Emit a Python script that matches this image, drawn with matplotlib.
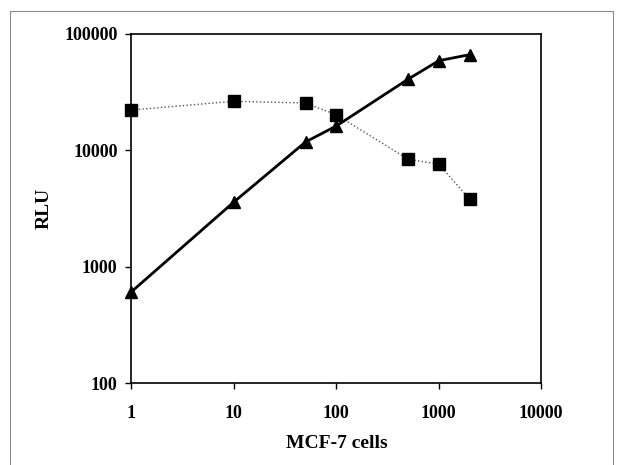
import matplotlib.pyplot as plt
from matplotlib.patches import Rectangle
from matplotlib.ticker import FixedLocator, NullLocator

# cells per well
cells = [1, 10, 50, 100, 500, 1000, 2000]
# triangle series (solid line)
rlu_triangle = [610, 3600, 11800, 16200, 40800, 58900, 66400]
# square series (dotted line)
rlu_square = [22200, 26400, 25500, 20200, 8400, 7600, 3800]

x_ticks = [1, 10, 100, 1000, 10000]
y_ticks = [100, 1000, 10000, 100000]

plt.rcParams['font.family'] = ['Liberation Serif', 'DejaVu Serif']

fig = plt.figure(figsize=(6.2, 4.65), dpi=100)
ax = fig.add_axes([0.212, 0.176, 0.661, 0.751])

# outer frame around the figure
fig.patches.append(Rectangle((0.016, -0.05), 0.973, 1.026, transform=fig.transFigure,
                             fill=False, edgecolor='#888888', linewidth=0.8))

ax.plot(cells, rlu_square, color='#555555', linestyle=':', linewidth=1.0,
        marker='s', markersize=8, markerfacecolor='black', markeredgecolor='black',
        clip_on=False, zorder=3)
ax.plot(cells, rlu_triangle, color='black', linestyle='-', linewidth=2.0,
        marker='^', markersize=9, markerfacecolor='black', markeredgecolor='black',
        clip_on=False, zorder=4)

ax.set_xscale('log')
ax.set_yscale('log')
ax.set_xlim(1, 10000)
ax.set_ylim(100, 100000)
ax.xaxis.set_major_locator(FixedLocator(x_ticks))
ax.yaxis.set_major_locator(FixedLocator(y_ticks))
ax.xaxis.set_minor_locator(NullLocator())
ax.yaxis.set_minor_locator(NullLocator())
ax.set_xticklabels([str(v) for v in x_ticks])
ax.set_yticklabels([str(v) for v in y_ticks])

ax.tick_params(direction='out', length=4, width=1, labelsize=13, pad=12)
ax.tick_params(axis='y', pad=6)
for lab in ax.get_xticklabels() + ax.get_yticklabels():
    lab.set_fontweight('bold')
for s in ax.spines.values():
    s.set_linewidth(1.2)

ax.set_xlabel('MCF-7 cells', fontsize=14, fontweight='bold', labelpad=9)
ax.set_ylabel('RLU', fontsize=14, fontweight='bold', labelpad=8)

fig.savefig('out.png', dpi=100)
